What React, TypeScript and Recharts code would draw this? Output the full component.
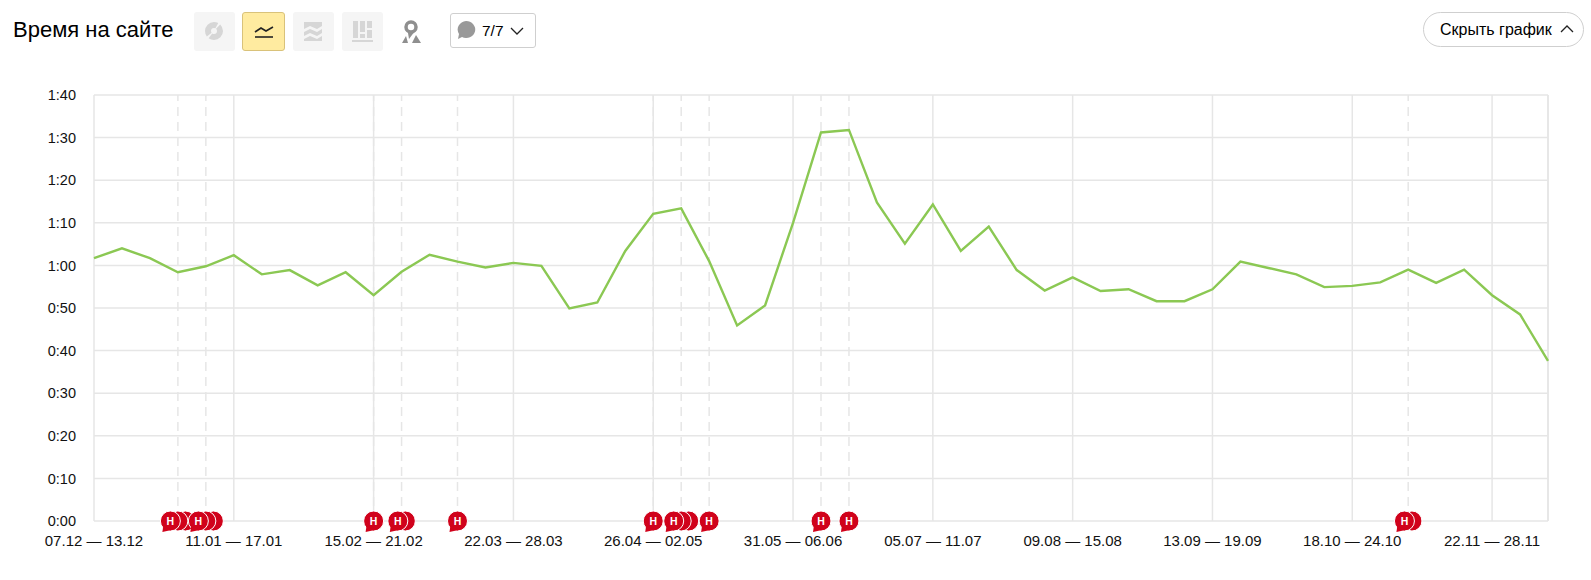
import React from 'react';
import { LineChart, Line, XAxis, YAxis, CartesianGrid, ReferenceLine } from 'recharts';

const weeks = [
  '07.12 — 13.12', '14.12 — 20.12', '21.12 — 27.12', '28.12 — 03.01', '04.01 — 10.01', '11.01 — 17.01',
  '18.01 — 24.01', '25.01 — 31.01', '01.02 — 07.02', '08.02 — 14.02', '15.02 — 21.02', '22.02 — 28.02',
  '01.03 — 07.03', '08.03 — 14.03', '15.03 — 21.03', '22.03 — 28.03', '29.03 — 04.04', '05.04 — 11.04',
  '12.04 — 18.04', '19.04 — 25.04', '26.04 — 02.05', '03.05 — 09.05', '10.05 — 16.05', '17.05 — 23.05',
  '24.05 — 30.05', '31.05 — 06.06', '07.06 — 13.06', '14.06 — 20.06', '21.06 — 27.06', '28.06 — 04.07',
  '05.07 — 11.07', '12.07 — 18.07', '19.07 — 25.07', '26.07 — 01.08', '02.08 — 08.08', '09.08 — 15.08',
  '16.08 — 22.08', '23.08 — 29.08', '30.08 — 05.09', '06.09 — 12.09', '13.09 — 19.09', '20.09 — 26.09',
  '27.09 — 03.10', '04.10 — 10.10', '11.10 — 17.10', '18.10 — 24.10', '25.10 — 31.10', '01.11 — 07.11',
  '08.11 — 14.11', '15.11 — 21.11', '22.11 — 28.11', '29.11 — 05.12', '06.12 — 12.12',
];

// average time on site, seconds
const avgSeconds = [
  61.7, 64, 61.7, 58.4, 59.8, 62.4, 57.9, 58.9, 55.3, 58.4, 53, 58.5, 62.5, 60.9, 59.5, 60.6, 59.9, 49.9,
  51.3, 63.4, 72.1, 73.4, 61, 45.9, 50.6, 70, 91.2, 91.8, 74.8, 65.1, 74.3, 63.4, 69.1, 58.9, 54.1, 57.2,
  54, 54.4, 51.6, 51.6, 54.4, 60.9, 59.4, 57.9, 54.9, 55.2, 56, 59, 55.9, 59, 53, 48.5, 37.6,
];

// how many notes are attached to a week
const noteCounts = [
  0, 0, 0, 3, 3, 0, 0, 0, 0, 0, 1, 2, 0, 1, 0, 0, 0, 0, 0, 0, 1, 3, 1, 0, 0, 0, 1, 1, 0, 0, 0, 0, 0, 0, 0, 0,
  0, 0, 0, 0, 0, 0, 0, 0, 0, 0, 0, 2, 0, 0, 0, 0, 0,
];

const xTicks = [0, 5, 10, 15, 20, 25, 30, 35, 40, 45, 50].map((i) => weeks[i]);
const yTicks = [0, 10, 20, 30, 40, 50, 60, 70, 80, 90, 100];

const chartData = weeks.map((week, i) => ({
  week,
  seconds: avgSeconds[i],
  notes: noteCounts[i],
  noteBase: noteCounts[i] > 0 ? 0 : null,
}));

const FONT = '"Liberation Sans", Arial, sans-serif';
const GRID = '#e6e6e6';
const NOTE_RED = '#d0021b';

function formatTime(v: number) {
  const m = Math.floor(v / 60);
  const s = v % 60;
  return `${m}:${s < 10 ? '0' : ''}${s}`;
}

function NoteBubbles(props: any) {
  const { cx, cy, payload, index } = props;
  const n = payload.notes;
  if (!n || cx == null || cy == null) return <g key={index} />;
  const step = 7.5;
  const offsets = Array.from({ length: n }, (_, i) => (i - (n - 1) / 2) * step).reverse();
  return (
    <g key={index}>
      {offsets.map((dx, i) => (
        <g key={i} transform={`translate(${cx + dx},${cy})`}>
          <circle r={10} fill={NOTE_RED} stroke="#fff" strokeWidth={1} />
          {i === n - 1 && (
            <>
              <path d="M-7,4 L-8,11 L1,9 Z" fill={NOTE_RED} />
              <text y={3.8} textAnchor="middle" fontSize={10.5} fontWeight="bold" fill="#fff" fontFamily={FONT}>
                Н
              </text>
            </>
          )}
        </g>
      ))}
    </g>
  );
}

const iconBox: React.CSSProperties = {
  position: 'absolute',
  top: 12,
  width: 41,
  height: 39,
  background: '#f5f5f5',
  borderRadius: 3,
};

function Header() {
  return (
    <>
      <div style={{ position: 'absolute', left: 13, top: 17, fontFamily: FONT, fontSize: 22, color: '#000' }}>
        Время на сайте
      </div>
      <div style={{ ...iconBox, left: 194 }}>
        <svg width="41" height="39">
          <circle cx="20" cy="19" r="6" fill="none" stroke="#d6d6d6" strokeWidth="6" strokeDasharray="13 1.5 16 1.5 6 1.5" />
        </svg>
      </div>
      <div
        style={{
          ...iconBox,
          left: 242,
          width: 43,
          background: '#ffeba0',
          border: '1px solid #d9c27a',
          boxSizing: 'border-box',
        }}
      >
        <svg width="41" height="37">
          <path d="M12,19 L18,15 L23,18 L30,14" fill="none" stroke="#222" strokeWidth="1.6" />
          <path d="M12,24 H30" stroke="#222" strokeWidth="1.6" />
        </svg>
      </div>
      <div style={{ ...iconBox, left: 293 }}>
        <svg width="41" height="39">
          <path d="M11,10 H29 V14 L24,17 L17,14 L11,17 Z" fill="#d6d6d6" />
          <path d="M11,20 L17,17 L24,20 L29,17 V21 L24,24 L17,21 L11,24 Z" fill="#d6d6d6" />
          <path d="M11,27 L17,24 L24,27 L29,24 V29 H11 Z" fill="#d6d6d6" />
        </svg>
      </div>
      <div style={{ ...iconBox, left: 342 }}>
        <svg width="41" height="39">
          <path d="M11,9 h5 v17 h-5 Z M18,9 h5 v11 h-5 Z M25,9 h5 v7 h-5 Z M25,18 h5 v8 h-5 Z M18,22 h5 v4 h-5 Z M10,28 h21 v2 h-21 Z" fill="#d6d6d6" />
        </svg>
      </div>
      <svg style={{ position: 'absolute', left: 400, top: 19 }} width="22" height="26">
        <circle cx="11" cy="8" r="5" fill="none" stroke="#8f8f8f" strokeWidth="3.5" />
        <path d="M8,14 L9,20 L15,12 Z" fill="#8f8f8f" />
        <path d="M2,24 L6,17 L8,24 Z M12,24 L16,16 L21,24 Z" fill="#8f8f8f" />
      </svg>
      <div
        style={{
          position: 'absolute',
          left: 450,
          top: 13,
          width: 86,
          height: 35,
          boxSizing: 'border-box',
          border: '1px solid #cfcfcf',
          borderRadius: 3,
          fontFamily: FONT,
          fontSize: 15.5,
          lineHeight: '33px',
          color: '#000',
        }}
      >
        <svg style={{ position: 'absolute', left: 5, top: 6 }} width="20" height="20">
          <path d="M10,1 a9,8.5 0 1 1 -4,16 L2,19 L3,14 A9,8.5 0 0 1 10,1 Z" fill="#999" />
        </svg>
        <span style={{ position: 'absolute', left: 31 }}>7/7</span>
        <svg style={{ position: 'absolute', left: 59, top: 12 }} width="14" height="10">
          <path d="M1,2 L7,8 L13,2" fill="none" stroke="#222" strokeWidth="1.3" />
        </svg>
      </div>
      <div
        style={{
          position: 'absolute',
          left: 1423,
          top: 12,
          width: 161,
          height: 35,
          boxSizing: 'border-box',
          border: '1px solid #cfcfcf',
          borderRadius: 18,
          fontFamily: FONT,
          fontSize: 16,
          lineHeight: '33px',
          color: '#000',
        }}
      >
        <span style={{ position: 'absolute', left: 16 }}>Скрыть график</span>
        <svg style={{ position: 'absolute', left: 136, top: 11 }} width="14" height="10">
          <path d="M1,8 L7,2 L13,8" fill="none" stroke="#222" strokeWidth="1.3" />
        </svg>
      </div>
    </>
  );
}

export default function App() {
  return (
    <div style={{ position: 'absolute', left: 0, top: 0, width: 1591, height: 580, background: '#fff' }}>
      <Header />
      <LineChart
        width={1591}
        height={580}
        data={chartData}
        margin={{ top: 95, right: 43, bottom: 0, left: 0 }}
      >
        <CartesianGrid stroke={GRID} strokeWidth={1.5} />
        <XAxis
          dataKey="week"
          ticks={xTicks}
          interval={0}
          height={59}
          axisLine={false}
          tickLine={false}
          tickMargin={8}
          tick={{ fontSize: 15, fontFamily: FONT, fill: '#111' }}
        />
        <YAxis
          width={94}
          domain={[0, 100]}
          ticks={yTicks}
          tickFormatter={formatTime}
          axisLine={false}
          tickLine={false}
          tickMargin={12}
          tick={{ fontSize: 14.5, fontFamily: FONT, fill: '#111' }}
        />
        <ReferenceLine x={weeks[weeks.length - 1]} stroke={GRID} strokeWidth={1.5} />
        {weeks
          .filter((_, i) => noteCounts[i] > 0)
          .map((w) => (
            <ReferenceLine key={w} x={w} stroke={GRID} strokeWidth={1.5} strokeDasharray="9 6" />
          ))}
        <Line
          type="linear"
          dataKey="seconds"
          stroke="#8bc853"
          strokeWidth={2.4}
          dot={false}
          activeDot={false}
          isAnimationActive={false}
        />
        <Line
          type="linear"
          dataKey="noteBase"
          stroke="none"
          dot={NoteBubbles}
          activeDot={false}
          isAnimationActive={false}
        />
      </LineChart>
    </div>
  );
}
